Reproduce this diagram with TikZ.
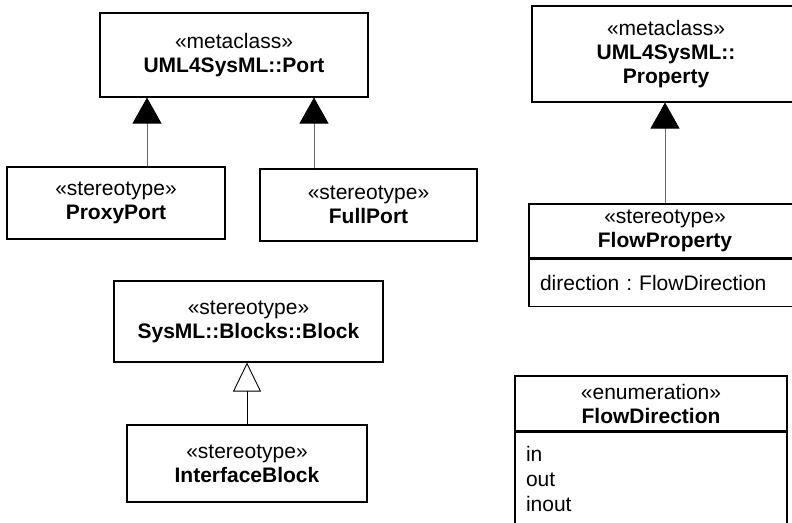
\documentclass[tikz,border=0pt]{standalone}
\usepackage{fontspec}
\setmainfont{Liberation Sans}
\usetikzlibrary{positioning,arrows.meta}
\definecolor{LinkGray}{RGB}{105,105,105}
\frenchspacing
\tikzset{
  cls/.style={draw=black,line width=1.1pt,fill=white,align=center,inner sep=0pt,
    font=\fontsize{21}{24}\selectfont},
  part/.style={cls,align=left,inner xsep=11pt,text width=250pt,minimum width=272pt},
  gen/.style={draw=LinkGray,line width=0.9pt,
    -{Triangle[length=26pt,width=29pt,color=black,fill=black]}},
  realize/.style={draw=black,line width=0.9pt,
    -{Triangle[open,length=29pt,width=28pt,fill=white]}},
}

\begin{document}
\begin{tikzpicture}[x=1pt,y=-1pt]
\useasboundingbox (0,0) rectangle (792,522);
% ports
\node[cls,minimum width=268pt,minimum height=84pt](port) at (234,55){«metaclass»\\\textbf{UML4SysML::Port}};
\node[cls,minimum width=218pt,minimum height=72pt](proxy) at (116,203){«stereotype»\\\textbf{ProxyPort}};
\node[cls,minimum width=217pt,minimum height=72pt](full) at (368.5,205){«stereotype»\\\textbf{FullPort}};
\draw[gen]([xshift=31pt]proxy.north)--([xshift=31pt]proxy.north |- port.south);
\draw[gen]([xshift=-54.5pt]full.north)--([xshift=-54.5pt]full.north |- port.south);
% property
\node[cls,minimum width=268pt,minimum height=96pt](prop) at (666,54){«metaclass»\\\textbf{UML4SysML::}\\\textbf{Property}};
\node[cls,minimum width=272pt,minimum height=54pt](fpHead) at (665,231){«stereotype»\\\textbf{FlowProperty}};
\node[part,minimum height=47pt,below=0pt of fpHead](fpBody){direction : FlowDirection};
\draw[gen](fpHead.north)--(fpHead.north |- prop.south);
% block
\node[cls,minimum width=269pt,minimum height=81pt](block) at (248.5,321.5){«stereotype»\\\textbf{SysML::Blocks::Block}};
\node[cls,minimum width=240pt,minimum height=77pt](iface) at (247,463.5){«stereotype»\\\textbf{InterfaceBlock}};
\draw[realize](iface.north)--(iface.north |- block.south);
% enumeration
\node[cls,minimum width=272pt,minimum height=55pt](fdHead) at (651,403.5){«enumeration»\\\textbf{FlowDirection}};
\node[part,minimum height=94pt,font=\fontsize{21}{25}\selectfont,below=0pt of fdHead](fdBody){in\\out\\inout};
\end{tikzpicture}
\end{document}
